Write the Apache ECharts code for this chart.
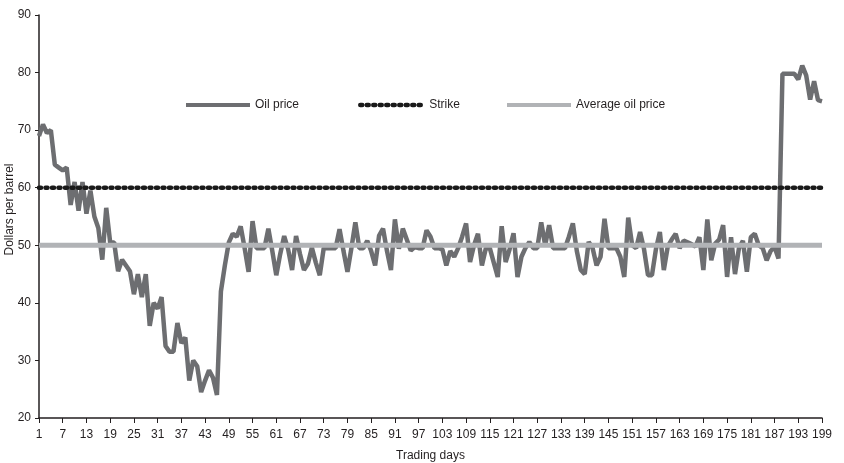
<!DOCTYPE html>
<html>
<head>
<meta charset="utf-8">
<script src="https://cdn.jsdelivr.net/npm/echarts@6/dist/echarts.min.js"></script>
<style>
html,body{margin:0;padding:0;background:#fff;}
#chart{width:844px;height:463px;}
</style>
</head>
<body>
<div id="chart"></div>
<script>
// Trading days 1..199
const days = Array.from({length: 199}, (_, i) => String(i + 1));

// Oil price (days 1-46, 47-96, 97-152, 153-188, 189-199)
const oilDays1to46 = [69,71,69.5,70,64,63.5,63,63.5,57,61, 56,61,55.5,59.5,55,53,47.5,56.5,50.5,50.5,
  45.5,47.5,46.5,45.5,41.5,45,41,45,36,40, 39,41,32.5,31.5,31.5,36.5,33,34,26.5,30,
  29,24.5,26.5,28.3,27,24];
const oilDays47to96 = [42,46.5,50.5,52,51.5,53.3,49.5,45.4,54.2,49.5, 49.5,49.5,52.9,49,44.8,48.5,51.6,49.3,45.7,51.6,
  48.5,45.7,46.8,49.6,47,44.8,49.5,49.5,49.5,49.5, 52.8,49,45.4,49.5,54,49.5,49.5,50.8,49,46.5,
  51.7,52.9,49,45.7,54.5,49.4,52.9,51,49.1,49.7];
const oilDays97to152 = [49.5,49.5,52.6,51.5,49.5,49.5,49.3,46.5,49,48, 49.5,51.5,53.8,47.1,50,52,46.5,49.5,49.5,47,
  44.5,53.3,47.1,49.3,52.1,44.5,48,49.5,50.6,49.5, 49.5,54,50,53.5,49.5,49.5,49.5,49.5,51.5,53.8,
  49,45.7,45,50.6,49.5,46.5,48,54.6,49.5,49.5, 49.5,48,44.5,54.8,50,49.5];
const oilDays153to188 = [52.3,49.3,44.8,44.8,49.3,52.3,45.7,49.8,51,52, 49.5,50.8,50.5,50.2,49.8,51.4,45.7,54.5,47.4,50.3,
  51,53.5,44.5,51.4,45,49.5,50.8,45.4,51.4,52, 50,49.5,47.4,49,49.7,47.7];
const oilDays189to199 = [79.8,79.8,79.8,79.8,78.8,81.2,79.5,75.3,78.5,75.2,75];
const oilPrice = [].concat(oilDays1to46, oilDays47to96, oilDays97to152, oilDays153to188, oilDays189to199);

const strikeValue = 60;
const averageValue = 50;
const strike = days.map(() => strikeValue);
const average = days.map(() => averageValue);

const seriesNames = ['Oil price', 'Strike', 'Average oil price'];
const yTicks = {min: 20, max: 90, interval: 10};

const FONT = 'Arial, "Liberation Sans", sans-serif';
const TXT = '#231f20';
const STRIKE_DASH = [2, 4.5];

const chart = echarts.init(document.getElementById('chart'));
function legendAt(name, left, lineStyle) {
  return {
    data: [name], left: left, top: 94, itemWidth: 64, itemHeight: 10,
    itemStyle: {opacity: 0, borderWidth: 0},
    lineStyle: lineStyle,
    textStyle: {fontFamily: FONT, fontSize: 12, color: TXT}, selectedMode: false
  };
}
chart.setOption({
  animation: false,
  backgroundColor: '#fff',
  legend: [
    legendAt(seriesNames[0], 179, {width: 4}),
    legendAt(seriesNames[1], 353, {width: 4.5, type: STRIKE_DASH, cap: 'round'}),
    legendAt(seriesNames[2], 500, {width: 4})
  ],
  grid: {left: 39, right: 22, top: 15, bottom: 45, containLabel: false, outerBoundsMode: 'none'},
  xAxis: {
    type: 'category', data: days, boundaryGap: false,
    name: 'Trading days', nameLocation: 'middle', nameGap: 32,
    nameTextStyle: {fontFamily: FONT, fontSize: 12, color: TXT},
    axisLine: {lineStyle: {color: TXT, width: 1.5}},
    axisTick: {interval: 5, length: 5, lineStyle: {color: TXT}},
    axisLabel: {interval: 5, fontFamily: FONT, fontSize: 12, color: TXT, margin: 11},
    splitLine: {show: false}
  },
  yAxis: {
    type: 'value', min: yTicks.min, max: yTicks.max, interval: yTicks.interval,
    name: 'Dollars per barrel', nameLocation: 'middle', nameGap: 23.5, nameMoveOverlap: false,
    nameTextStyle: {fontFamily: FONT, fontSize: 12, color: TXT, padding: [0, 0, 0, 14]},
    axisLine: {show: true, lineStyle: {color: TXT, width: 1.5}},
    axisTick: {show: true, length: 4, lineStyle: {color: TXT}},
    axisLabel: {fontFamily: FONT, fontSize: 12, color: TXT, margin: 8},
    splitLine: {show: false}
  },
  series: [
    {name: seriesNames[0], type: 'line', data: oilPrice, showSymbol: false, symbol: 'none',
     color: '#6d6e71', lineStyle: {color: '#6d6e71', width: 4.5}, z: 2},
    {name: seriesNames[1], type: 'line', data: strike, showSymbol: false, symbol: 'none',
     color: '#1a1a1a', lineStyle: {color: '#1a1a1a', width: 4.5, type: STRIKE_DASH, cap: 'round'}, z: 3},
    {name: seriesNames[2], type: 'line', data: average, showSymbol: false, symbol: 'none',
     color: '#b1b3b6', lineStyle: {color: '#b1b3b6', width: 5}, z: 4}
  ]
});
</script>
</body>
</html>
